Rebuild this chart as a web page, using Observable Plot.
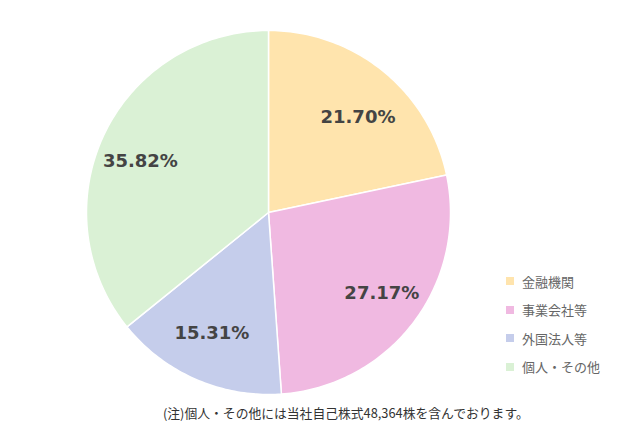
<!DOCTYPE html>
<html><head><meta charset="utf-8">
<script src="https://cdn.jsdelivr.net/npm/d3@7"></script>
<script src="https://cdn.jsdelivr.net/npm/@observablehq/plot@0.6"></script>
<style>
body{margin:0;background:#fff;}
#wrap{position:relative;width:640px;height:440px;overflow:hidden;}
#legend{position:absolute;left:506px;top:267px;font-family:"Noto Sans CJK JP",sans-serif;font-size:13px;color:#666;}
#legend .row{height:28.5px;display:flex;align-items:center;}
#legend .sw{width:8px;height:8px;margin-right:8px;}
#caption{position:absolute;left:163px;top:403px;font-family:"Noto Sans CJK JP",sans-serif;font-size:12.8px;color:#333;white-space:nowrap;}
</style>
</head><body>
<div id="wrap"></div>
<script>
const categories = ["金融機関", "事業会社等", "外国法人等", "個人・その他"];
const shares = [21.70, 27.17, 15.31, 35.82];
const colors = ["#FFE4AD", "#F0B9E1", "#C5CDEB", "#DAF1D5"];
const captionText = "(注)個人・その他には当社自己株式48,364株を含んでおります。";

const total = d3.sum(shares);
const slices = [];
const labels = [];
let acc = 0;
shares.forEach((v, i) => {
  const a0 = acc / total * 2 * Math.PI;
  acc += v;
  const a1 = acc / total * 2 * Math.PI;
  const n = Math.max(8, Math.ceil((a1 - a0) / (Math.PI / 180)));
  const ring = [[0, 0]];
  for (let k = 0; k <= n; k++) {
    const a = a0 + (a1 - a0) * k / n;
    ring.push([Math.sin(a), Math.cos(a)]);
  }
  ring.push([0, 0]);
  slices.push({type: "Feature", properties: {name: categories[i]}, geometry: {type: "Polygon", coordinates: [ring]}});
  const am = (a0 + a1) / 2;
  labels.push({name: categories[i], share: v, x: 0.78 * Math.sin(am), y: 0.70 * Math.cos(am)});
});
const circleRing = d3.range(0, 361, 2).map(d => [Math.sin(d * Math.PI / 180), Math.cos(d * Math.PI / 180)]);
const domain = {type: "Polygon", coordinates: [circleRing]};

const chart = Plot.plot({
  width: 640,
  height: 400,
  marginLeft: 86,
  marginRight: 190,
  marginTop: 30,
  marginBottom: 6,
  projection: {type: "reflect-y", domain},
  color: {domain: categories, range: colors},
  marks: [
    Plot.geo(slices, {fill: d => d.properties.name, stroke: "white", strokeWidth: 1.5}),
    Plot.text(labels, {x: "x", y: "y", dy: 4, text: d => d.share.toFixed(2) + "%", fontSize: 18, fontWeight: "bold", fill: "#444", fontFamily: "DejaVu Sans"})
  ]
});
const wrap = document.getElementById("wrap");
wrap.appendChild(chart);

const legend = document.createElement("div");
legend.id = "legend";
categories.forEach((c, i) => {
  const row = document.createElement("div");
  row.className = "row";
  const sw = document.createElement("span");
  sw.className = "sw";
  sw.style.background = colors[i];
  const t = document.createElement("span");
  t.textContent = c;
  row.appendChild(sw); row.appendChild(t);
  legend.appendChild(row);
});
wrap.appendChild(legend);

const cap = document.createElement("div");
cap.id = "caption";
cap.textContent = captionText;
wrap.appendChild(cap);
</script>
</body></html>
